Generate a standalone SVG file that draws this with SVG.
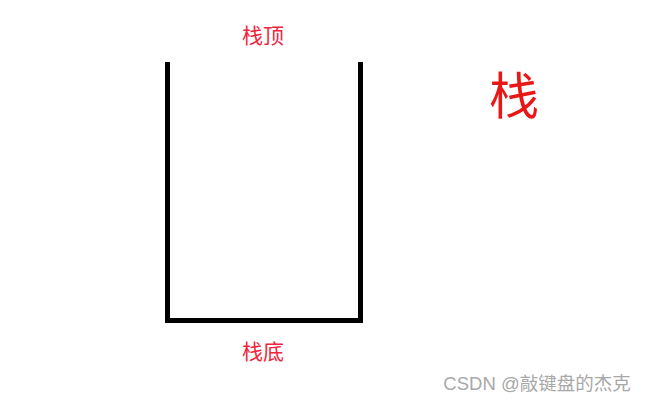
<svg xmlns="http://www.w3.org/2000/svg" width="647" height="403" viewBox="0 0 647 403">
<style>
.lbl{font-family:"Noto Sans CJK SC","Noto Sans",sans-serif;fill:#f0243c;font-size:21px}
.wall{fill:none;stroke:#000;stroke-width:5;stroke-linecap:butt;stroke-linejoin:miter}
</style>
<rect width="647" height="403" fill="#fff"/>
<g id="stack">
<path class="wall" d="M167.5,62 V320.5 H360.5 V62"/>
</g>
<g id="labels">
<text class="lbl" x="263" y="43" text-anchor="middle">栈顶</text>
<text class="lbl" x="263" y="359" text-anchor="middle">栈底</text>
<text x="514" y="114" text-anchor="middle" style="font-family:'Noto Sans CJK SC',sans-serif;font-size:50px;fill:#e81818">栈</text>
<text x="537" y="390" text-anchor="middle" style="font-family:'Liberation Sans','Noto Sans CJK SC',sans-serif;font-size:18.5px;fill:#a8a8a8">CSDN @敲键盘的杰克</text>
</g>
</svg>
